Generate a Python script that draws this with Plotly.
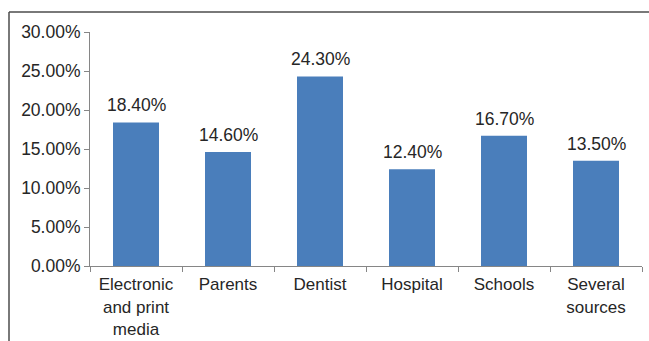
import plotly.graph_objects as go

categories = ["Electronic<br>and print<br>media", "Parents", "Dentist", "Hospital", "Schools", "Several<br>sources"]
values = [18.4, 14.6, 24.3, 12.4, 16.7, 13.5]
y_ticks = [0, 5, 10, 15, 20, 25, 30]

W, H = 649, 341
L, R, T, B = 90, 7, 32, 75
pw = W - L - R
ph = H - T - B

frac = [v / 100 for v in values]

fig = go.Figure()
fig.add_trace(go.Bar(x=categories, y=frac, marker=dict(color="#4a7ebb", line=dict(width=0)),
                     width=0.5))

for c, v in zip(categories, frac):
    fig.add_annotation(x=c, y=v, text=f"{v*100:.2f}%", showarrow=False,
                       yanchor="bottom", yshift=5,
                       font=dict(family="Liberation Sans, Arial", size=17.5, color="#262626"))

# frame lines (left and top)
x0 = (9 - L) / pw
ytop = (H - B - 12) / ph
ybot = (H - B - 345) / ph
fig.add_shape(type="line", xref="paper", yref="paper", x0=x0, x1=x0, y0=ybot, y1=ytop,
              line=dict(color="#4d4d4d", width=1.5))
fig.add_shape(type="line", xref="paper", yref="paper", x0=x0, x1=(W + 5 - L) / pw, y0=ytop, y1=ytop,
              line=dict(color="#4d4d4d", width=1.5))

fig.update_layout(
    width=W, height=H,
    margin=dict(l=L, r=R, t=T, b=B, autoexpand=False),
    paper_bgcolor="white", plot_bgcolor="white",
    showlegend=False,
    font=dict(family="Liberation Sans, Arial", size=17.5, color="#262626"),
    xaxis=dict(type="category", showline=True, linecolor="#868686", linewidth=1,
               ticks="outside", tickson="boundaries", ticklen=5, tickcolor="#868686",
               showgrid=False, tickfont=dict(size=17), ticklabelstandoff=3,
               automargin=False),
    yaxis=dict(range=[0, 0.30], tickvals=[t / 100 for t in y_ticks], tickformat=".2%",
               showline=True, linecolor="#868686", linewidth=1,
               ticks="outside", ticklen=5, tickcolor="#868686",
               showgrid=False, zeroline=False, tickfont=dict(size=17.5),
               automargin=False),
)

fig.write_html("out.html")
